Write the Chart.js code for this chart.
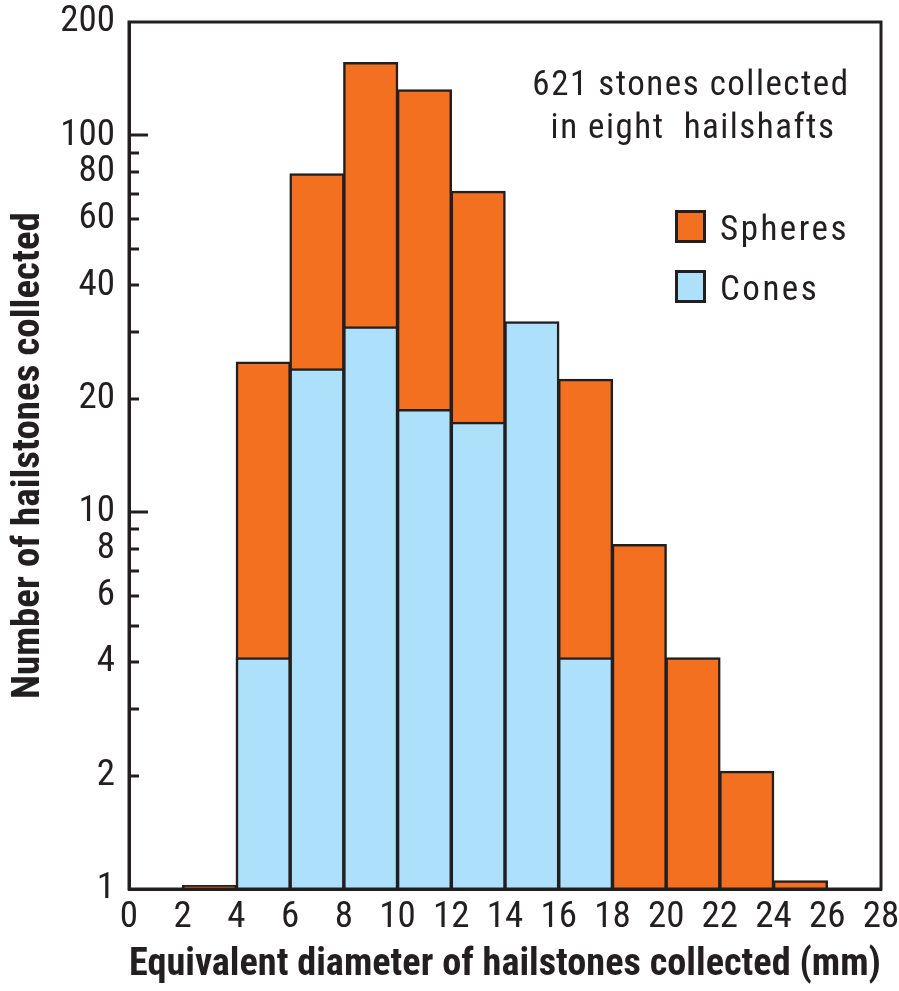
<!DOCTYPE html>
<html>
<head>
<meta charset="utf-8">
<script src="https://cdn.jsdelivr.net/npm/chart.js@4.4.0/dist/chart.umd.min.js"></script>
<style>
  html, body { margin: 0; padding: 0; background: #fff; }
  #wrap { width: 899px; height: 991px; position: relative; }
</style>
</head>
<body>
<div id="wrap"><canvas id="c" width="899" height="991"></canvas></div>
<script>
// bins are 2 mm wide, value at bin centre
var binCentres = [3, 5, 7, 9, 11, 13, 15, 17, 19, 21, 23, 25];
var spheres = [1.02, 25, 79, 156, 132, 71, null, 22.5, 8.2, 4.1, 2.05, 1.05];
var cones   = [null, 4.1, 24, 31, 18.7, 17.3, 32, 4.1, null, null, null, null];
var yLabels = [1, 2, 4, 6, 8, 10, 20, 40, 60, 80, 100, 200];
var yMinor  = [3, 5, 7, 9, 30, 50, 70, 90];
var noteLines = ['621 stones collected', 'in eight  hailshafts'];

var INK = '#231f20';
var ORANGE = '#f37021';
var BLUE = '#ade0fa';
var FONT = '"Roboto Condensed", "Roboto", sans-serif';

function pts(vals){
    var out = [];
    for (var i = 0; i < binCentres.length; i++) {
        out.push({x: binCentres[i], y: vals[i]});
    }
    return out;
}

// frame, inward tick marks, note text and legend
var decor = {
    id: 'decor',
    afterDatasetsDraw: function(chart){
        var ctx = chart.ctx;
        var a = chart.chartArea;
        var y = chart.scales.y;
        ctx.save();
        ctx.strokeStyle = INK;
        ctx.lineWidth = 3;
        var all = yLabels.concat(yMinor);
        for (var i = 0; i < all.length; i++) {
            var v = all[i];
            if (v == 1 || v == 200) continue;
            var py = Math.round(y.getPixelForValue(v));
            var len = (v == 10 || v == 100) ? 19 : 10;
            ctx.beginPath();
            ctx.moveTo(a.left, py);
            ctx.lineTo(a.left + len, py);
            ctx.stroke();
        }
        ctx.strokeRect(a.left, a.top, a.right - a.left, a.bottom - a.top);

        ctx.fillStyle = INK;
        ctx.font = '35px ' + FONT;
        ctx.letterSpacing = '1.5px';
        ctx.textAlign = 'center';
        ctx.textBaseline = 'alphabetic';
        ctx.fillText(noteLines[0], 691, 95);
        ctx.fillText(noteLines[1], 693, 138);

        var items = [
            {label: chart.data.datasets[0].label, color: chart.data.datasets[0].backgroundColor, top: 211, base: 240},
            {label: chart.data.datasets[1].label, color: chart.data.datasets[1].backgroundColor, top: 271, base: 300}
        ];
        ctx.textAlign = 'left';
        ctx.letterSpacing = '2.5px';
        for (var k = 0; k < items.length; k++) {
            ctx.fillStyle = items[k].color;
            ctx.fillRect(676.5, items[k].top + 0.5, 28, 30);
            ctx.lineWidth = 3;
            ctx.strokeRect(676.5, items[k].top + 0.5, 28, 30);
            ctx.fillStyle = INK;
            ctx.fillText(items[k].label, 720, items[k].base);
        }
        ctx.restore();
    }
};

var ctx = document.getElementById('c').getContext('2d');
var chart = new Chart(ctx, {
    type: 'bar',
    data: {
        datasets: [
            {
                label: 'Spheres',
                data: pts(spheres),
                backgroundColor: ORANGE,
                borderColor: INK,
                borderWidth: 2.5,
                inflateAmount: 0.75,
                grouped: false,
                order: 2,
                barPercentage: 1,
                categoryPercentage: 1
            },
            {
                label: 'Cones',
                data: pts(cones),
                backgroundColor: BLUE,
                borderColor: INK,
                borderWidth: 2.5,
                inflateAmount: 0.75,
                grouped: false,
                order: 1,
                barPercentage: 1,
                categoryPercentage: 1
            }
        ]
    },
    options: {
        responsive: false,
        animation: false,
        layout: { padding: { top: 22, right: 18, left: 0, bottom: 0 } },
        plugins: {
            legend: { display: false },
            tooltip: { enabled: false }
        },
        scales: {
            x: {
                type: 'linear',
                min: 0,
                max: 28,
                offset: false,
                grid: { display: false, drawTicks: false },
                border: { display: true, color: INK, width: 3 },
                ticks: {
                    stepSize: 2,
                    padding: 7,
                    color: INK,
                    font: { family: FONT, size: 37 },
                    maxRotation: 0,
                    autoSkip: false
                },
                title: {
                    display: true,
                    text: 'Equivalent diameter of hailstones collected (mm)',
                    color: INK,
                    font: { family: FONT, size: 39, weight: 'bold' },
                    padding: { top: 0, bottom: 2 }
                },
                afterFit: function(s){
                    s.height = 102;
                    s.paddingLeft = 0;
                    s.paddingRight = 0;
                }
            },
            y: {
                type: 'logarithmic',
                min: 1,
                max: 200,
                grid: { display: false, drawTicks: false },
                border: { display: true, color: INK, width: 3 },
                afterBuildTicks: function(s){
                    s.ticks = yLabels.concat(yMinor).sort(function(p, q){ return p - q; })
                        .map(function(v){ return {value: v}; });
                },
                ticks: {
                    padding: 14,
                    color: INK,
                    autoSkip: false,
                    font: { family: FONT, size: 37 },
                    callback: function(v){
                        return yLabels.indexOf(v) >= 0 ? String(v) : '';
                    }
                },
                title: {
                    display: true,
                    text: 'Number of hailstones collected',
                    color: INK,
                    font: { family: FONT, size: 39, weight: 'bold' },
                    padding: { top: 6, bottom: 0 }
                },
                afterFit: function(s){
                    s.width = 129;
                    s.paddingTop = 0;
                    s.paddingBottom = 0;
                }
            }
        }
    },
    plugins: [decor]
});
</script>
</body>
</html>
